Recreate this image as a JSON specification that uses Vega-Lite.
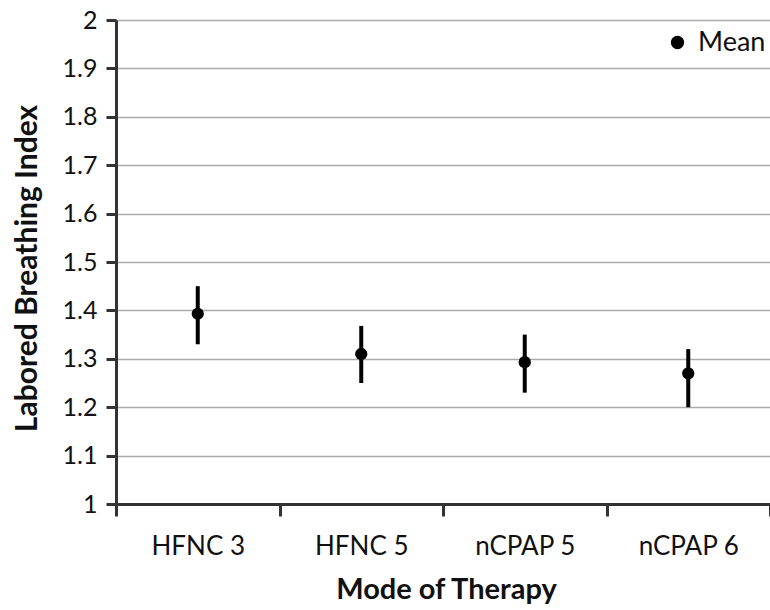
{
  "$schema": "https://vega.github.io/schema/vega-lite/v6.json",
  "width": 654,
  "height": 484,
  "autosize": {"type": "none"},
  "padding": {"left": 116, "top": 20, "right": 0, "bottom": 106},
  "background": "white",
  "config": {
    "view": {"stroke": null},
    "font": "Lato"
  },
  "data": {
    "values": [
      {"mode": "HFNC 3", "mean": 1.393, "low": 1.33, "high": 1.45, "series": "Mean"},
      {"mode": "HFNC 5", "mean": 1.31, "low": 1.25, "high": 1.368, "series": "Mean"},
      {"mode": "nCPAP 5", "mean": 1.293, "low": 1.23, "high": 1.35, "series": "Mean"},
      {"mode": "nCPAP 6", "mean": 1.27, "low": 1.20, "high": 1.32, "series": "Mean"}
    ]
  },
  "encoding": {
    "x": {
      "field": "mode",
      "type": "nominal",
      "sort": null,
      "scale": {"paddingInner": 0, "paddingOuter": 0},
      "axis": {
        "title": "Mode of Therapy",
        "titleFont": "Lato",
        "titleFontSize": 29,
        "titleFontWeight": "bold",
        "titleColor": "#111",
        "titleBaseline": "alphabetic",
        "titleY": 94,
        "titleX": 330,
        "labelAngle": 0,
        "labelFont": "Lato",
        "labelFontSize": 26,
        "labelColor": "#111",
        "labelBaseline": "alphabetic",
        "labelPadding": 38,
        "tickBand": "extent",
        "tickSize": 12,
        "tickWidth": 3,
        "tickColor": "#333",
        "domainColor": "#333",
        "domainWidth": 3,
        "grid": false
      }
    }
  },
  "layer": [
    {
      "mark": {"type": "rule", "strokeWidth": 4, "color": "black"},
      "encoding": {
        "y": {
          "field": "low",
          "type": "quantitative",
          "scale": {"domain": [1, 2], "nice": false, "zero": false},
          "axis": {
            "title": "Labored Breathing Index",
            "titleFont": "Lato",
            "titleFontSize": 30,
            "titleFontWeight": "bold",
            "titleColor": "#111",
            "titleX": -89,
            "titleY": 248,
            "titleBaseline": "middle",
            "values": [1, 1.1, 1.2, 1.3, 1.4, 1.5, 1.6, 1.7, 1.8, 1.9, 2],
            "format": "~g",
            "labelFont": "Lato",
            "labelFontSize": 25,
            "labelColor": "#111",
            "labelPadding": 9,
            "tickSize": 10,
            "tickWidth": 3,
            "tickColor": "#333",
            "domainColor": "#333",
            "domainWidth": 3,
            "grid": true,
            "gridColor": "#aaaaaa",
            "gridWidth": 1.5
          }
        },
        "y2": {"field": "high"}
      }
    },
    {
      "mark": {"type": "point", "filled": true, "shape": "circle", "size": 150, "opacity": 1},
      "encoding": {
        "y": {"field": "mean", "type": "quantitative"},
        "color": {
          "field": "series",
          "type": "nominal",
          "scale": {"range": ["black"]},
          "legend": {
            "title": null,
            "orient": "none",
            "legendX": 548,
            "legendY": 9,
            "padding": 0,
            "symbolType": "circle",
            "symbolSize": 140,
            "symbolFillColor": "black",
            "symbolStrokeColor": "black",
            "symbolOpacity": 1,
            "labelFont": "Lato",
            "labelFontSize": 27,
            "labelColor": "#111",
            "labelOffset": 7
          }
        }
      }
    }
  ]
}
